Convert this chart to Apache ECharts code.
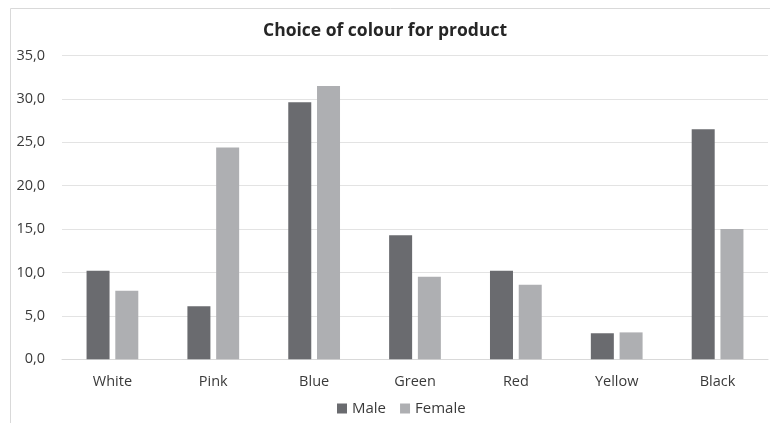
<!DOCTYPE html>
<html lang="en">
<head>
    <meta charset="UTF-8">
    <title>Choice of colour for product</title>
    <script src="https://cdn.jsdelivr.net/npm/echarts@6/dist/echarts.min.js"></script>
    <style>
        *{
            margin:0;
            padding:0;
        }
        body {
            background: #fff;
        }
        #main {
            width: 770px;
            height: 423px;
        }
    </style>
</head>
<body>
<div id="main"></div>
<script>
    var categories = ['White', 'Pink', 'Blue', 'Green', 'Red', 'Yellow', 'Black'];
    var male = [10.2, 6.1, 29.6, 14.3, 10.2, 3.0, 26.5];
    var female = [7.9, 24.4, 31.5, 9.5, 8.6, 3.1, 15.0];
    var seriesNames = ['Male', 'Female'];

    var chart = echarts.init(document.getElementById('main'));

    var option = {
        animation: false,
        color: ['#6a6b6f', '#aeafb2'],
        textStyle: {
            fontFamily: 'Open Sans'
        },
        title: {
            text: 'Choice of colour for product',
            left: 'center',
            top: 17,
            textStyle: {
                fontSize: 17.5,
                fontWeight: 'bold',
                color: '#262626',
                fontFamily: 'Open Sans'
            }
        },
        graphic: [
            {
                type: 'rect',
                shape: { x: 10.5, y: 8.5, width: 800, height: 500 },
                style: { fill: 'none', stroke: '#d9d9d9', lineWidth: 1 },
                silent: true
            }
        ],
        legend: {
            data: seriesNames,
            bottom: 2,
            left: 332,
            itemWidth: 10,
            itemHeight: 10,
            itemGap: 14,
            icon: 'rect',
            textStyle: {
                fontSize: 15,
                color: '#3a3a3a'
            }
        },
        grid: {
            left: 62,
            right: 2,
            top: 55.5,
            bottom: 63.7
        },
        xAxis: {
            type: 'category',
            data: categories,
            axisTick: { show: false },
            axisLine: { lineStyle: { color: '#d9d9d9' } },
            axisLabel: {
                fontSize: 14.5,
                color: '#3a3a3a',
                margin: 15
            }
        },
        yAxis: {
            type: 'value',
            min: 0,
            max: 35,
            interval: 5,
            axisLine: { show: false },
            axisTick: { show: false },
            splitLine: { lineStyle: { color: '#e3e3e3' } },
            axisLabel: {
                fontSize: 14.5,
                color: '#3a3a3a',
                margin: 17,
                formatter: function (v) {
                    return v.toFixed(1).replace('.', ',');
                }
            }
        },
        series: [
            {
                name: seriesNames[0],
                type: 'bar',
                barWidth: 23,
                barGap: '25%',
                data: male
            },
            {
                name: seriesNames[1],
                type: 'bar',
                barWidth: 23,
                barGap: '25%',
                data: female
            }
        ]
    };

    chart.setOption(option);
</script>
</body>
</html>
